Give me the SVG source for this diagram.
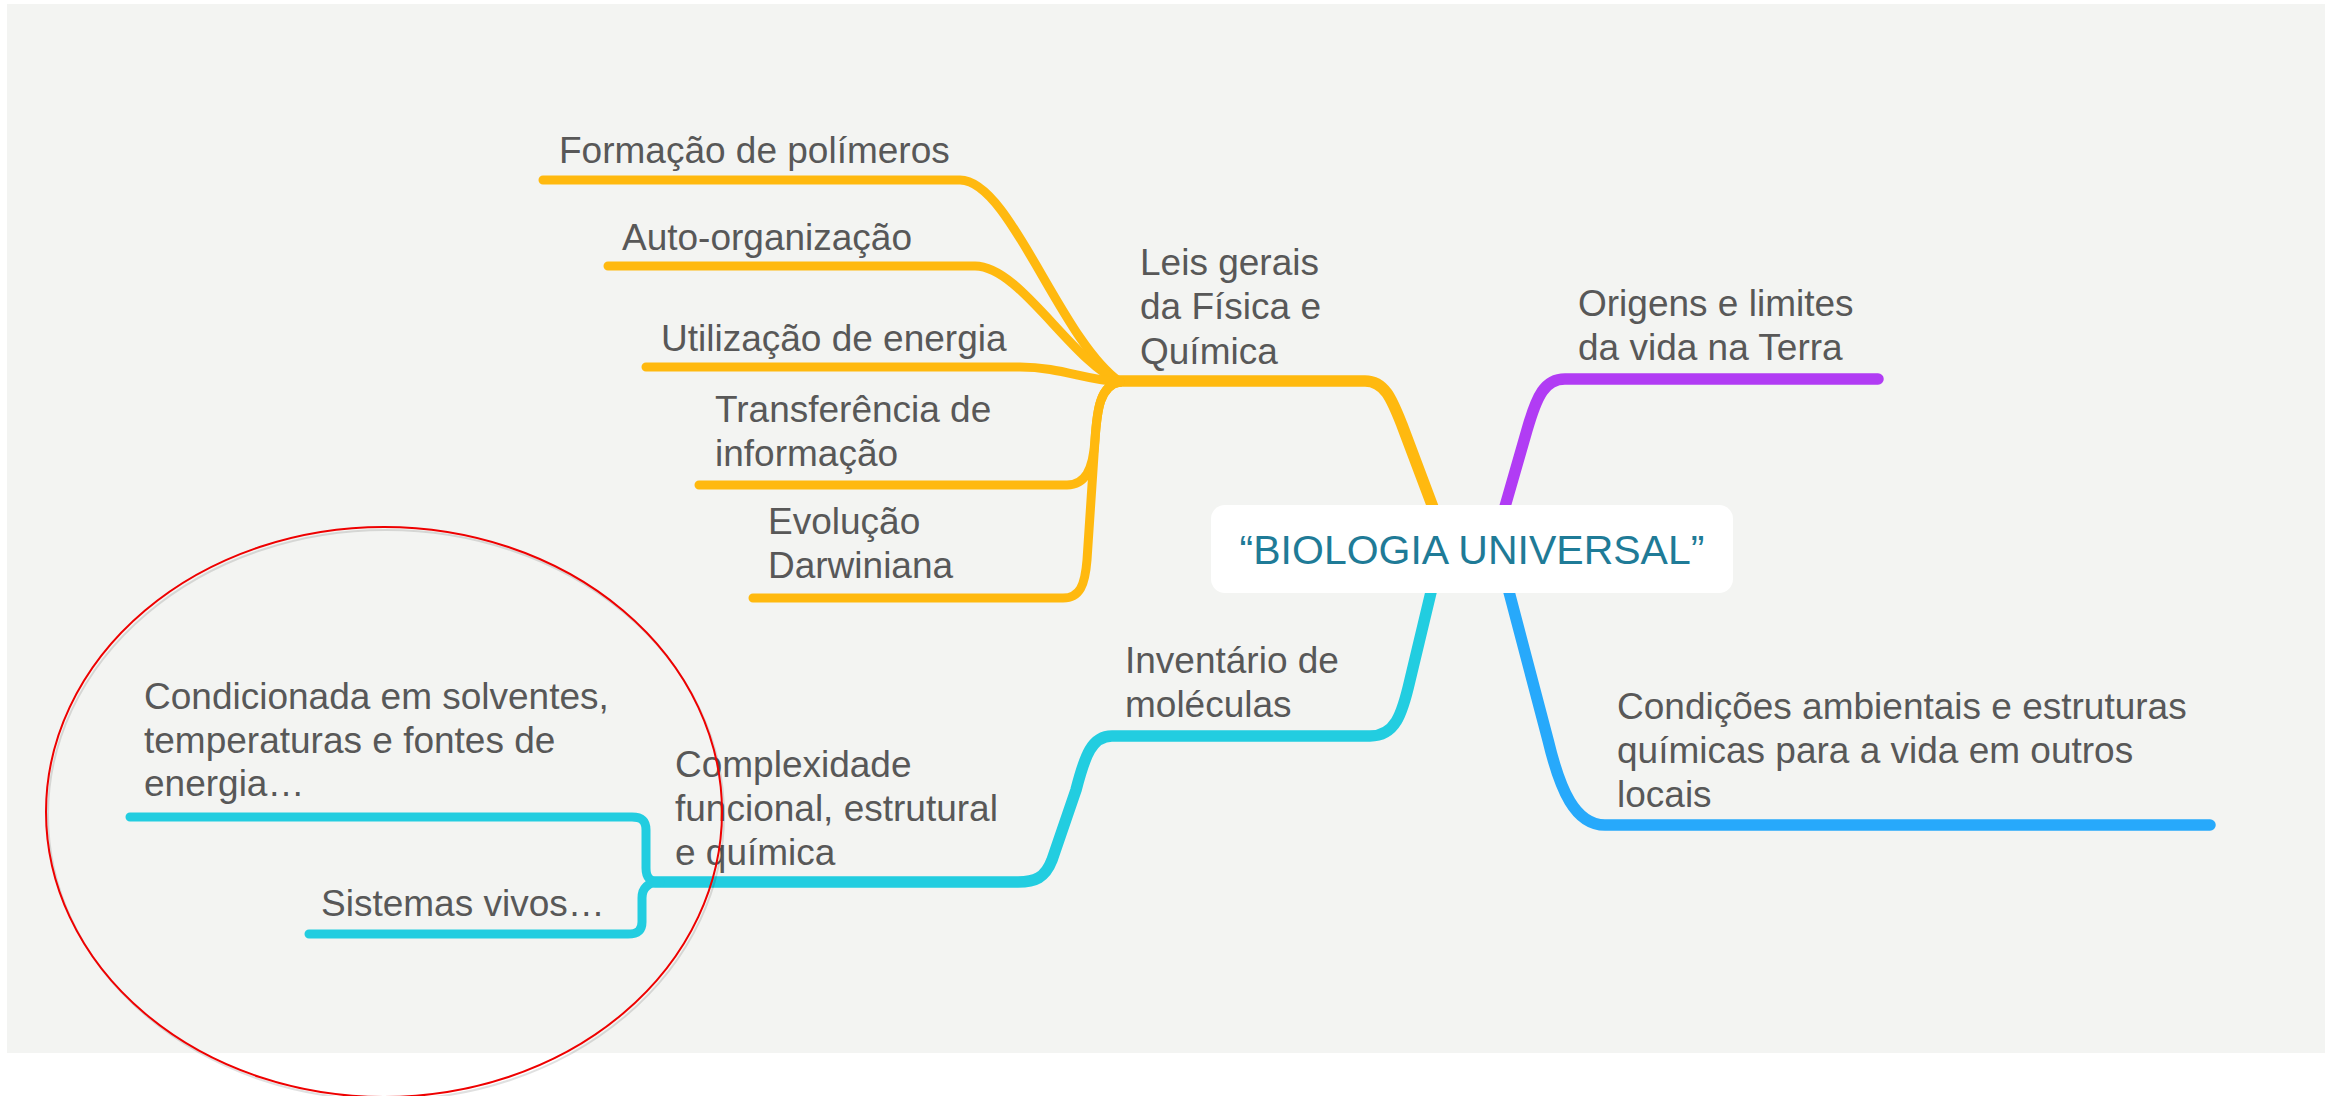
<svg xmlns="http://www.w3.org/2000/svg" width="2336" height="1096" viewBox="0 0 2336 1096">
<style>
.t{font-family:"Liberation Sans",Arial,sans-serif;font-size:37px;fill:#585858}
.c{font-family:"Liberation Sans",Arial,sans-serif;font-size:41px;fill:#1f7b97}
.l{fill:none;stroke-linecap:round;stroke-linejoin:round}
.m{stroke-width:11.5}
.s{stroke-width:9}
.y{stroke:#ffb90f}
.p{stroke:#b13cf4}
.cy{stroke:#22cde0}
.b{stroke:#27a9fb}
</style>
<rect x="0" y="0" width="2336" height="1096" fill="#ffffff"/>
<rect x="7" y="4" width="2318" height="1049" fill="#f3f4f2"/>
<g id="connectors">
<path class="l m y" d="M1117 381 H1365 C1385 381 1392 400 1402 425 L1434 510"/>
<path class="l m p" d="M1504 510 L1527 430 C1537 395 1545 379 1565 379 H1878"/>
<path class="l m cy" d="M1432 588 L1410 680 C1402 715 1395 736 1370 736 H1112 C1092 736 1085 755 1076 790 L1052 860 C1045 878 1035 882 1018 882 H655"/>
<path class="l m b" d="M1508 588 L1548 740 C1560 790 1575 825 1605 825 H2210"/>
<path class="l s y" d="M543 180 H960 C1010 180 1060 340 1120 382"/>
<path class="l s y" d="M608 266 H975 C1020 266 1070 360 1120 382"/>
<path class="l s y" d="M646 367 H1020 C1060 367 1085 380 1120 382"/>
<path class="l s y" d="M1120 382 C1100 385 1097 410 1095 440 C1093 470 1085 485 1067 485 H699"/>
<path class="l s y" d="M1120 382 C1100 385 1097 410 1095 440 L1087 560 C1085 585 1080 598 1063 598 H753"/>
<path class="l s cy" d="M660 882 C650 882 646 878 646 868 V830 C646 821 642 817 632 817 H130"/>
<path class="l s cy" d="M660 882 C648 882 642 888 642 898 V922 C642 930 638 934 628 934 H309"/>
</g>
<g id="node-center">
<rect x="1211" y="505" width="522" height="88" rx="14" fill="#ffffff"/>
<text class="c" x="1472" y="564" text-anchor="middle">“BIOLOGIA UNIVERSAL”</text>
</g>
<g id="node-leis"><text class="t" x="1140" y="275">Leis gerais</text><text class="t" x="1140" y="319">da Física e</text><text class="t" x="1140" y="364">Química</text></g>
<g id="node-formacao"><text class="t" x="559" y="163">Formação de polímeros</text></g>
<g id="node-auto"><text class="t" x="622" y="250">Auto-organização</text></g>
<g id="node-utilizacao"><text class="t" x="661" y="351">Utilização de energia</text></g>
<g id="node-transferencia"><text class="t" x="715" y="422">Transferência de</text><text class="t" x="715" y="466">informação</text></g>
<g id="node-evolucao"><text class="t" x="768" y="534">Evolução</text><text class="t" x="768" y="578">Darwiniana</text></g>
<g id="node-origens"><text class="t" x="1578" y="316">Origens e limites</text><text class="t" x="1578" y="360">da vida na Terra</text></g>
<g id="node-condicoes"><text class="t" x="1617" y="719">Condições ambientais e estruturas</text><text class="t" x="1617" y="763">químicas para a vida em outros</text><text class="t" x="1617" y="807">locais</text></g>
<g id="node-inventario"><text class="t" x="1125" y="673">Inventário de</text><text class="t" x="1125" y="717">moléculas</text></g>
<g id="node-complexidade"><text class="t" x="675" y="777">Complexidade</text><text class="t" x="675" y="821">funcional, estrutural</text><text class="t" x="675" y="865">e química</text></g>
<g id="node-condicionada"><text class="t" x="144" y="709">Condicionada em solventes,</text><text class="t" x="144" y="753">temperaturas e fontes de</text><text class="t" x="144" y="796">energia…</text></g>
<g id="node-sistemas"><text class="t" x="321" y="916">Sistemas vivos…</text></g>
<ellipse cx="386" cy="815" rx="338" ry="285" fill="none" stroke="#000" stroke-opacity="0.12" stroke-width="2"/>
<ellipse cx="384" cy="812" rx="338" ry="285" fill="none" stroke="#ee0000" stroke-width="2"/>
</svg>
